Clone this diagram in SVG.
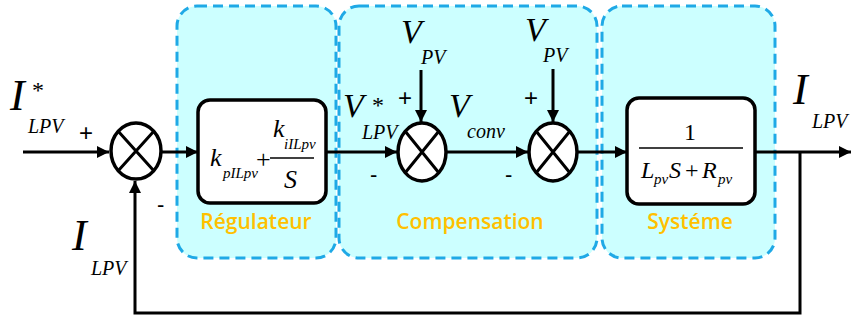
<svg xmlns="http://www.w3.org/2000/svg" width="853" height="322" viewBox="0 0 853 322">
<style>
.zone{fill:#ccffff;stroke:#1fa9e6;stroke-width:3;stroke-dasharray:10 6}
.blk{fill:#fff;stroke:#000;stroke-width:3.5}
.ln{fill:none;stroke:#000;stroke-width:3}
.sum{fill:#fff;stroke:#000;stroke-width:3.5}
.m{font-family:"Liberation Serif",serif;font-style:italic;fill:#000}
.r{font-family:"Liberation Serif",serif;fill:#000}
.s{font-family:"Liberation Sans",sans-serif;fill:#000}
.lab{font-family:"Open Sans","Liberation Sans",sans-serif;font-weight:600;fill:#ffc000;font-size:21px;text-anchor:middle}
</style>
<defs>
<marker id="ah" viewBox="0 0 12 12" refX="12" refY="6" markerWidth="12" markerHeight="12" markerUnits="userSpaceOnUse" orient="auto">
<path d="M0,0 L12,6 L0,12 Z" fill="#000"/>
</marker>
</defs>

<g id="zone-regulateur">
<rect class="zone" x="177" y="6" width="159" height="252" rx="20"/>
<text class="lab" x="256" y="229">Régulateur</text>
</g>
<g id="zone-compensation">
<rect class="zone" x="339" y="6" width="258" height="252" rx="20"/>
<text class="lab" x="470" y="229">Compensation</text>
</g>
<g id="zone-systeme">
<rect class="zone" x="602" y="6" width="173" height="252" rx="20"/>
<text class="lab" x="690" y="229">Systéme</text>
</g>

<g id="connectors">
<line class="ln" x1="23" y1="152" x2="109" y2="152" marker-end="url(#ah)"/>
<line class="ln" x1="162" y1="152" x2="198" y2="152" marker-end="url(#ah)"/>
<line class="ln" x1="326" y1="152" x2="397" y2="152" marker-end="url(#ah)"/>
<line class="ln" x1="447" y1="152" x2="528" y2="152" marker-end="url(#ah)"/>
<line class="ln" x1="578" y1="152" x2="627" y2="152" marker-end="url(#ah)"/>
<line class="ln" x1="755" y1="152" x2="851" y2="152" marker-end="url(#ah)"/>
<line class="ln" x1="421" y1="70" x2="421" y2="122" marker-end="url(#ah)"/>
<line class="ln" x1="553" y1="69" x2="553" y2="122" marker-end="url(#ah)"/>
<polyline class="ln" points="800,152 800,313 135,313 135,181" marker-end="url(#ah)"/>
</g>

<g id="sum1">
<ellipse class="sum" cx="136" cy="151" rx="25" ry="28"/>
<path class="ln" d="M118,131 L154,171 M154,131 L118,171"/>
</g>
<g id="sum2">
<ellipse class="sum" cx="422" cy="152" rx="24" ry="29"/>
<path class="ln" d="M405,131 L439,173 M439,131 L405,173"/>
</g>
<g id="sum3">
<ellipse class="sum" cx="553" cy="152" rx="24" ry="29"/>
<path class="ln" d="M536,131 L570,173 M570,131 L536,173"/>
</g>

<g id="regulateur">
<rect class="blk" x="198" y="100" width="128" height="103" rx="12"/>
<text class="m" x="210" y="166" font-size="26">k</text>
<text class="m" x="223" y="178" font-size="15">pILpv</text>
<text class="r" x="256" y="168" font-size="26">+</text>
<text class="m" x="273" y="137" font-size="26">k</text>
<text class="m" x="284" y="149" font-size="15">iILpv</text>
<line x1="270" y1="158" x2="314" y2="158" stroke="#000" stroke-width="1.5"/>
<text class="m" x="284" y="188" font-size="26">S</text>
</g>

<g id="systeme">
<rect class="blk" x="627" y="98" width="128" height="106" rx="12"/>
<text class="r" x="690" y="140" font-size="24" text-anchor="middle">1</text>
<line x1="639" y1="148" x2="743" y2="148" stroke="#000" stroke-width="1.5"/>
<text class="m" x="641" y="178" font-size="24">L</text>
<text class="m" x="654" y="184" font-size="15">pv</text>
<text class="m" x="669" y="178" font-size="24">S</text>
<text class="r" x="685" y="178" font-size="24">+</text>
<text class="m" x="702" y="178" font-size="24">R</text>
<text class="m" x="718" y="184" font-size="15">pv</text>
</g>

<g id="labels">
<text class="m" x="10" y="110" font-size="44">I</text>
<text class="r" x="32" y="98" font-size="24">*</text>
<text class="m" x="28" y="133" font-size="20">LPV</text>
<text class="s" x="79" y="141" font-size="24">+</text>
<text class="s" x="157" y="212" font-size="22">-</text>
<text class="m" x="72" y="250" font-size="44">I</text>
<text class="m" x="91" y="275" font-size="20">LPV</text>

<text class="m" x="343" y="117" font-size="34">V</text>
<text class="r" x="372" y="113" font-size="24">*</text>
<text class="m" x="362" y="139" font-size="20">LPV</text>
<text class="s" x="398" y="106" font-size="24">+</text>
<text class="s" x="370" y="182" font-size="22">-</text>
<text class="m" x="401" y="43" font-size="34">V</text>
<text class="m" x="421" y="64" font-size="20">PV</text>
<text class="m" x="449" y="117" font-size="34">V</text>
<text class="m" x="467" y="138" font-size="20">conv</text>
<text class="s" x="505" y="182" font-size="22">-</text>
<text class="s" x="524" y="106" font-size="24">+</text>
<text class="m" x="525" y="41" font-size="34">V</text>
<text class="m" x="543" y="62" font-size="20">PV</text>

<text class="m" x="793" y="104" font-size="44">I</text>
<text class="m" x="812" y="128" font-size="20">LPV</text>
</g>
</svg>
